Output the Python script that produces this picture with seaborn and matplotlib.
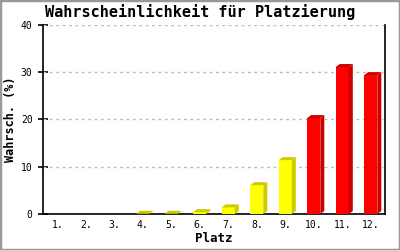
import matplotlib
matplotlib.use("Agg")
import matplotlib.pyplot as plt
import seaborn as sns
import pandas as pd
from matplotlib.patches import Polygon, Rectangle
from matplotlib.transforms import IdentityTransform

# ---- data ----
plaetze = ["1.", "2.", "3.", "4.", "5.", "6.", "7.", "8.", "9.", "10.", "11.", "12."]
werte = [0.0, 0.0, 0.0, 0.05, 0.05, 0.4, 1.4, 6.1, 11.4, 20.3, 31.1, 29.4]
gruppen = ["gelb"] * 9 + ["rot"] * 3
y_ticks = [0, 10, 20, 30, 40]

front = {"gelb": "#FFFF00", "rot": "#FF0000"}
dunkel = {"gelb": "#CCCC00", "rot": "#CC0000"}

df = pd.DataFrame({"Platz": plaetze, "Wert": werte, "Gruppe": gruppen})

sns.set_theme(style="white")
plt.rcParams["font.family"] = ["DejaVu Sans Mono", "DejaVu Sans"]
for k in ["text.color", "axes.labelcolor", "xtick.color", "ytick.color"]:
    plt.rcParams[k] = "black"

fig = plt.figure(figsize=(4, 2.5), dpi=100)
fig.patch.set_facecolor("white")
ax = fig.add_axes([43 / 400, 1 - 214 / 250, (385 - 43) / 400, (214 - 25) / 250])

sns.barplot(data=df, x="Platz", y="Wert", hue="Gruppe", palette=front,
            dodge=False, legend=False, width=0.46, linewidth=0, ax=ax,
            saturation=1, zorder=3)

ax.set_ylim(0, 40)
ax.set_xlim(-0.5, len(plaetze) - 0.5)
ax.set_yticks(y_ticks)
ax.set_yticklabels([str(t) for t in y_ticks])

for t in y_ticks[1:]:
    ax.axhline(t, xmax=0.995, color="#BBBBBB", lw=1, ls=(0, (2, 2.6)), zorder=1)

for s in ["left", "bottom", "right"]:
    ax.spines[s].set_visible(True)
    ax.spines[s].set_color("black")
    ax.spines[s].set_linewidth(1.2)
ax.spines["top"].set_visible(False)

ax.tick_params(axis="y", direction="inout", length=7, width=1.2, color="black",
               labelsize=7, pad=4, left=True)
ax.tick_params(axis="x", length=0, labelsize=7, pad=4)
ax.set_xlabel("Platz", fontsize=9, fontweight="bold", labelpad=2)
ax.set_ylabel("Wahrsch. (%)", fontsize=8.5, fontweight="bold")
ax.yaxis.set_label_coords((17 - 43) / 342, 0.5)

fig.text(0.5, 1 - 12 / 250, "Wahrscheinlichkeit für Platzierung",
         ha="center", va="center", fontsize=11, fontweight="bold")

# 3D extrusion computed from the bars seaborn drew
fig.canvas.draw()
dx, dy = 4, 3
patches = [p for p in ax.patches if p.get_height() > 0]
for p in patches:
    x0 = p.get_x(); x1 = x0 + p.get_width(); h = p.get_height()
    (X0, Y0) = ax.transData.transform((x0, 0))
    (X1, Y1) = ax.transData.transform((x1, h))
    fc = p.get_facecolor()
    key = "rot" if fc[1] < 0.5 else "gelb"
    col = dunkel[key]
    top = Polygon([(X0, Y1), (X1, Y1), (X1 + dx, Y1 + dy), (X0 + dx, Y1 + dy)],
                  closed=True, transform=IdentityTransform(), facecolor=col,
                  edgecolor="none", zorder=4)
    side = Polygon([(X1, Y0), (X1 + dx, Y0 + dy), (X1 + dx, Y1 + dy), (X1, Y1)],
                   closed=True, transform=IdentityTransform(), facecolor=col,
                   edgecolor="none", zorder=4)
    fig.add_artist(top)
    fig.add_artist(side)

fig.add_artist(Rectangle((0, 0), 1, 1, transform=fig.transFigure, fill=False,
                         edgecolor="#999999", linewidth=2.5, zorder=10))

fig.savefig("out.png", dpi=100)
